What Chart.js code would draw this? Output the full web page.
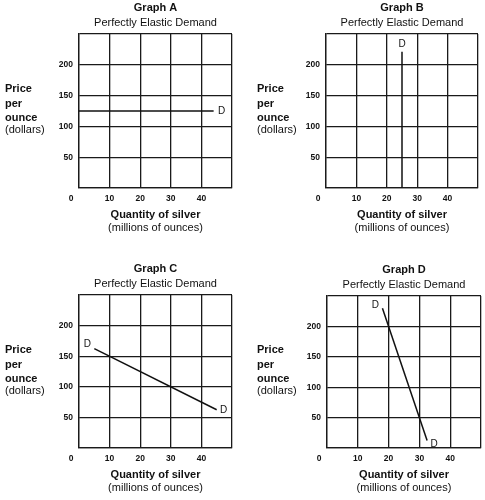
<!DOCTYPE html>
<html>
<head>
<meta charset="utf-8">
<script src="https://cdn.jsdelivr.net/npm/chart.js@4.4.1/dist/chart.umd.min.js"></script>
<style>
  body { margin: 0; background: #fff; }
  #wrap { position: relative; width: 485px; height: 500px; }
  .pane { position: absolute; width: 242px; height: 245px; }
</style>
</head>
<body>
<div id="wrap">
  <div class="pane" style="left:0;top:0"><canvas id="gA" width="242" height="245"></canvas></div>
  <div class="pane" style="left:245px;top:0"><canvas id="gB" width="242" height="245"></canvas></div>
  <div class="pane" style="left:0;top:255px"><canvas id="gC" width="242" height="245"></canvas></div>
  <div class="pane" style="left:245px;top:255px"><canvas id="gD" width="242" height="245"></canvas></div>
</div>
<script>
// Datos de los gráficos
const graphNames = ['Graph A', 'Graph B', 'Graph C', 'Graph D'];
const subtitleText = 'Perfectly Elastic Demand';
const yTitleLines = ['Price', 'per', 'ounce', '(dollars)'];
const xTitleLines = ['Quantity of silver', '(millions of ounces)'];
const xTicks = [0, 10, 20, 30, 40, 50];
const yTicks = [0, 50, 100, 150, 200, 250];

// Curvas de demanda (cantidad, precio)
const demandAQty = [0, 44];
const demandAPrice = [125, 125];
const demandBQty = [25, 25];
const demandBPrice = [0, 221];
const demandCQty = [5, 45];
const demandCPrice = [162.5, 62.5];
const demandDQty = [18, 32.5];
const demandDPrice = [230, 12.5];

// Etiquetas "D" en los extremos de cada curva: [índice del punto, dx, dy]
const dLabelsA = [[1, 8, 0]];
const dLabelsB = [[1, 0, -8]];
const dLabelsC = [[0, -7, -4], [1, 7, 0]];
const dLabelsD = [[0, -7, -3], [1, 7, 4]];

// Configuración del área de trazado de cada panel
const panes = [
    { id: 'gA', name: graphNames[0], qty: demandAQty, price: demandAPrice, labels: dLabelsA, area: { left: 79, right: 232, top: 34, bottom: 188 }, yTitleX: 5 },
    { id: 'gB', name: graphNames[1], qty: demandBQty, price: demandBPrice, labels: dLabelsB, area: { left: 81, right: 233, top: 34, bottom: 188 }, yTitleX: 12 },
    { id: 'gC', name: graphNames[2], qty: demandCQty, price: demandCPrice, labels: dLabelsC, area: { left: 79, right: 232, top: 40, bottom: 193 }, yTitleX: 5 },
    { id: 'gD', name: graphNames[3], qty: demandDQty, price: demandDPrice, labels: dLabelsD, area: { left: 82, right: 236, top: 41, bottom: 193 }, yTitleX: 12 }
];

const W = 242, H = 245;
const Y_AXIS_W = 30, X_AXIS_H = 20;
const FONT = 'Arial, "Liberation Sans", sans-serif';
const INK = '#111';
const GRID = '#1a1a1a';

// Plugin para textos: títulos, ejes, "0" y etiquetas D
const textPlugin = {
    id: 'textPlugin',
    afterDraw(chart, args, opts) {
        const ctx = chart.ctx;
        const a = chart.chartArea;
        const xs = chart.scales.x, ys = chart.scales.y;
        const cx = (a.left + a.right) / 2;
        const cy = (a.top + a.bottom) / 2;
        ctx.save();
        ctx.fillStyle = INK;
        ctx.textBaseline = 'middle';

        // Título y subtítulo
        ctx.textAlign = 'center';
        ctx.font = 'bold 11px ' + FONT;
        ctx.fillText(opts.name, cx, a.top - 26);
        ctx.font = '11px ' + FONT;
        ctx.fillText(subtitleText, cx, a.top - 11);

        // Título del eje X
        ctx.font = 'bold 11px ' + FONT;
        ctx.fillText(xTitleLines[0], cx, a.bottom + 27);
        ctx.font = '11px ' + FONT;
        ctx.fillText(xTitleLines[1], cx, a.bottom + 40);

        // Título del eje Y (horizontal, varias líneas)
        ctx.textAlign = 'left';
        const yOffsets = [-22, -7, 7, 19];
        yTitleLines.forEach((line, i) => {
            ctx.font = (i < 3 ? 'bold ' : '') + '11px ' + FONT;
            ctx.fillText(line, opts.yTitleX, cy + yOffsets[i]);
        });

        // Origen "0"
        ctx.textAlign = 'center';
        ctx.font = 'bold 8.5px ' + FONT;
        ctx.fillText('0', xs.getPixelForValue(0) - 8, ys.getPixelForValue(0) + 11);

        // Etiquetas D
        ctx.font = '10px ' + FONT;
        opts.labels.forEach(([idx, dx, dy]) => {
            const px = xs.getPixelForValue(opts.qty[idx]);
            const py = ys.getPixelForValue(opts.price[idx]);
            ctx.fillText('D', px + dx, py + dy);
        });
        ctx.restore();
    }
};

const hideEnds = (min, max) => (value) => (value === min || value === max) ? '' : value;

panes.forEach(p => {
    const canvas = document.getElementById(p.id);
    new Chart(canvas.getContext('2d'), {
        type: 'scatter',
        data: {
            datasets: [{
                data: p.qty.map((q, i) => ({ x: q, y: p.price[i] })),
                showLine: true,
                borderColor: INK,
                borderWidth: 1.5,
                pointRadius: 0,
                fill: false
            }]
        },
        options: {
            responsive: false,
            animation: false,
            devicePixelRatio: 1,
            layout: {
                padding: {
                    left: p.area.left - Y_AXIS_W,
                    right: W - p.area.right,
                    top: p.area.top,
                    bottom: H - p.area.bottom - X_AXIS_H
                }
            },
            plugins: {
                legend: { display: false },
                tooltip: { enabled: false },
                textPlugin: { name: p.name, qty: p.qty, price: p.price, labels: p.labels, yTitleX: p.yTitleX }
            },
            scales: {
                x: {
                    type: 'linear',
                    min: xTicks[0],
                    max: xTicks[xTicks.length - 1],
                    afterFit: (s) => { s.height = X_AXIS_H; },
                    afterBuildTicks: (s) => { s.ticks = xTicks.map(v => ({ value: v })); },
                    grid: { color: GRID, lineWidth: 1.3, drawTicks: false },
                    border: { color: GRID, width: 1.3 },
                    ticks: {
                        padding: 6,
                        color: INK,
                        font: { size: 8.5, weight: 'bold', family: FONT },
                        callback: hideEnds(xTicks[0], xTicks[xTicks.length - 1])
                    }
                },
                y: {
                    type: 'linear',
                    min: yTicks[0],
                    max: yTicks[yTicks.length - 1],
                    afterFit: (s) => { s.width = Y_AXIS_W; },
                    afterBuildTicks: (s) => { s.ticks = yTicks.map(v => ({ value: v })); },
                    grid: { color: GRID, lineWidth: 1.3, drawTicks: false },
                    border: { color: GRID, width: 1.3 },
                    ticks: {
                        padding: 6,
                        color: INK,
                        font: { size: 8.5, weight: 'bold', family: FONT },
                        callback: hideEnds(yTicks[0], yTicks[yTicks.length - 1])
                    }
                }
            }
        },
        plugins: [textPlugin]
    });
});
</script>
</body>
</html>
